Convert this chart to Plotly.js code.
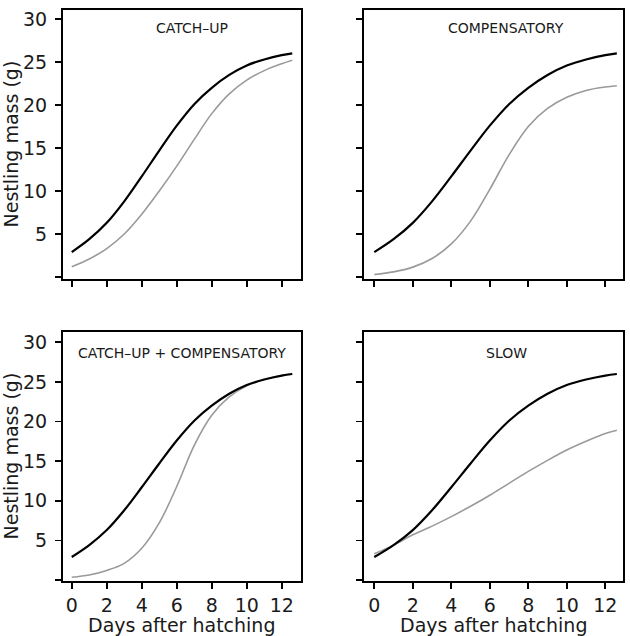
<!DOCTYPE html>
<html>
<head>
<meta charset="utf-8">
<script src="https://cdn.plot.ly/plotly-3.0.1.min.js"></script>
<style>
  html, body { margin: 0; padding: 0; background: #fff; }
  #chart { width: 630px; height: 636px; }
</style>
</head>
<body>
<div id="chart"></div>
<script>
// ---- data ----
const days = [0, 1, 2, 3, 4, 5, 6, 7, 8, 9, 10, 11, 12, 12.6];
const normalGrowth = [2.9, 4.4, 6.3, 8.8, 11.7, 14.7, 17.6, 20.1, 22.0, 23.5, 24.6, 25.3, 25.8, 26.0];
const catchUp      = [1.2, 2.1, 3.3, 5.0, 7.3, 10.0, 12.9, 16.0, 19.0, 21.3, 22.9, 24.0, 24.8, 25.2];
const compensatory = [0.3, 0.6, 1.15, 2.15, 3.85, 6.5, 10.2, 14.2, 17.5, 19.6, 20.9, 21.7, 22.1, 22.25];
const catchUpComp  = [0.35, 0.63, 1.2, 2.1, 4.0, 7.2, 11.8, 17.0, 20.8, 23.1, 24.5, 25.3, 25.8, 26.0];
const slowGrowth   = [3.3, 4.4, 5.7, 6.8, 8.0, 9.3, 10.7, 12.2, 13.7, 15.1, 16.4, 17.5, 18.5, 18.9];

const panelTitles = ["CATCH–UP", "COMPENSATORY", "CATCH–UP + COMPENSATORY", "SLOW"];
const panelSeries = [catchUp, compensatory, catchUpComp, slowGrowth];
const xTicks = [0, 2, 4, 6, 8, 10, 12];
const yTickVals = [0, 5, 10, 15, 20, 25, 30];
const yTickText = ["", "5", "10", "15", "20", "25", "30"];
const xTitle = "Days after hatching";
const yTitle = "Nestling mass (g)";

// ---- layout ----
const W = 630, H = 636;
const FONT = "DejaVu Sans, sans-serif";
const TXT = "#1a1a1a";
const boxes = [ // [left, right, top, bottom] in px
  [63, 301, 10, 279],
  [364, 623, 10, 279],
  [63, 301, 332, 581],
  [364, 623, 332, 581]
];
const xRanges = [[-0.5, 13.1], [-0.535, 12.92], [-0.5, 13.1], [-0.535, 12.92]];
const yRanges = [[-0.23, 31.05], [-0.23, 31.05], [-0.13, 31.3], [-0.13, 31.3]];
const titleX = [6.85, 6.85, 6.3, 6.85];
const titleY = [29.0, 29.0, 28.7, 28.7];

const traces = [];
const layout = {
  width: W, height: H,
  margin: {l: 0, r: 0, t: 0, b: 0},
  paper_bgcolor: "#fff", plot_bgcolor: "#fff",
  showlegend: false,
  font: {family: FONT, color: TXT, size: 19},
  annotations: []
};

for (let i = 0; i < 4; i++) {
  const n = i + 1;
  const xa = "x" + (n === 1 ? "" : n);
  const ya = "y" + (n === 1 ? "" : n);
  const b = boxes[i];
  const left = i % 2 === 0;
  const bottom = i >= 2;
  traces.push({
    x: days, y: panelSeries[i], xaxis: xa, yaxis: ya,
    mode: "lines", line: {color: "#9a9a9a", width: 1.6, shape: "spline", smoothing: 1},
    hoverinfo: "skip"
  });
  traces.push({
    x: days, y: normalGrowth, xaxis: xa, yaxis: ya,
    mode: "lines", line: {color: "#000", width: 2.2, shape: "spline", smoothing: 1},
    hoverinfo: "skip"
  });
  const axCommon = {
    showline: true, mirror: true, linecolor: "#000", linewidth: 2,
    ticks: "outside", ticklen: 6, tickwidth: 1.6, tickcolor: "#000",
    showgrid: false, zeroline: false, fixedrange: true,
    tickfont: {family: FONT, size: 19, color: TXT}
  };
  layout["xaxis" + (n === 1 ? "" : n)] = Object.assign({}, axCommon, {
    domain: [b[0] / W, b[1] / W],
    range: xRanges[i],
    anchor: ya,
    tickmode: "array", tickvals: xTicks, ticktext: xTicks.map(String),
    showticklabels: bottom,
    ticklabelstandoff: 0
  });
  layout["yaxis" + (n === 1 ? "" : n)] = Object.assign({}, axCommon, {
    domain: [1 - b[3] / H, 1 - b[2] / H],
    range: yRanges[i],
    anchor: xa,
    tickmode: "array", tickvals: yTickVals, ticktext: yTickText,
    showticklabels: left,
    ticklabelstandoff: 4
  });
  layout.annotations.push({
    xref: xa, yref: ya, x: titleX[i], y: titleY[i],
    text: panelTitles[i], showarrow: false,
    xanchor: "center", yanchor: "middle",
    font: {family: FONT, size: 14, color: TXT}
  });
  if (left) {
    layout.annotations.push({
      xref: "paper", yref: "paper",
      x: 10 / W, y: 1 - ((b[2] + b[3]) / 2) / H,
      text: yTitle, showarrow: false, textangle: -90,
      xanchor: "center", yanchor: "middle",
      font: {family: FONT, size: 19, color: TXT}
    });
  }
  if (bottom) {
    layout.annotations.push({
      xref: "paper", yref: "paper",
      x: ((b[0] + b[1]) / 2) / W, y: 1 - 625 / H,
      text: xTitle, showarrow: false,
      xanchor: "center", yanchor: "middle",
      font: {family: FONT, size: 19, color: TXT}
    });
  }
}

Plotly.newPlot("chart", traces, layout, {displayModeBar: false, staticPlot: true});
</script>
</body>
</html>
